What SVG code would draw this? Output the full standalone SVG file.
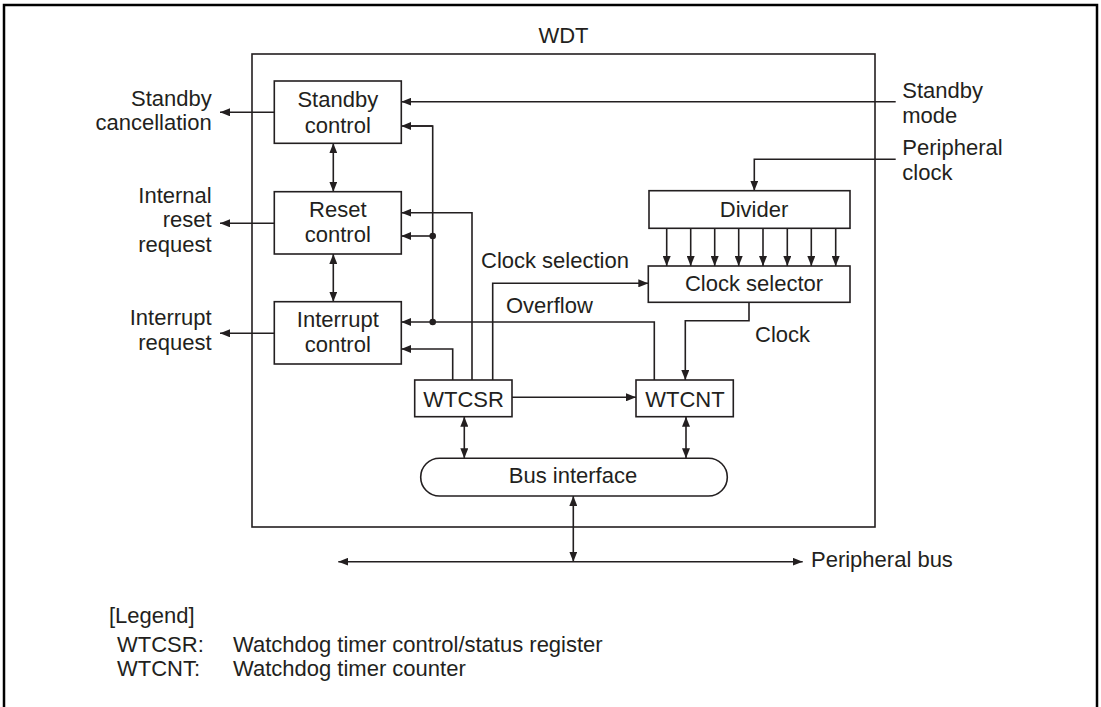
<svg xmlns="http://www.w3.org/2000/svg" width="1101" height="707" viewBox="0 0 1101 707">
<defs>
<style>
text{font-family:"Liberation Sans",Arial,Helvetica,sans-serif;font-size:22px;fill:#231f20}
.box{fill:#fff;stroke:#231f20;stroke-width:1.6}
.ln{fill:none;stroke:#231f20;stroke-width:1.6}
.ar{marker-end:url(#ah)}
.da{marker-start:url(#ah);marker-end:url(#ah)}
.m{text-anchor:middle}
.e{text-anchor:end}
</style>
<marker id="ah" viewBox="0 0 10 8" refX="10" refY="4" markerWidth="10" markerHeight="8" markerUnits="userSpaceOnUse" orient="auto-start-reverse">
<path d="M0,0 L10,4 L0,8 z" fill="#231f20"/>
</marker>
</defs>
<rect x="0" y="0" width="1101" height="707" fill="#fff"/>
<rect x="4" y="5" width="1093" height="710" fill="none" stroke="#000" stroke-width="2.5"/>

<g id="wdt">
<rect class="box" x="252" y="54" width="623" height="473"/>
<text class="m" x="563.5" y="43">WDT</text>
</g>

<g id="connectors">
<!-- outputs -->
<path class="ln ar" d="M274,112.3 H220"/>
<path class="ln ar" d="M274,223.3 H220"/>
<path class="ln ar" d="M274,333.3 H220"/>
<!-- standby mode -->
<path class="ln ar" d="M895.7,101.7 H401.3"/>
<!-- peripheral clock -->
<path class="ln ar" d="M895.7,159.3 H754.3 V190.7"/>
<!-- inter-block double arrows -->
<path class="ln da" d="M333.3,143.3 V191.7"/>
<path class="ln da" d="M333.3,254 V301.7"/>
<!-- overflow bus with vertical at 433 -->
<path class="ln ar" d="M654.3,380 V322 H401.3"/>
<path class="ln" d="M432.7,322 V126 H410"/>
<path class="ln ar" d="M432.7,126 H401.3"/>
<path class="ln ar" d="M432.7,236 H401.3"/>
<circle cx="432.7" cy="236" r="3.3" fill="#231f20"/>
<circle cx="432.7" cy="322" r="3.3" fill="#231f20"/>
<!-- WTCSR to reset -->
<path class="ln ar" d="M472,380 V212.7 H401.3"/>
<!-- WTCSR to interrupt -->
<path class="ln ar" d="M452.7,380 V349 H401.3"/>
<!-- clock selection -->
<path class="ln ar" d="M492.7,380 V283.3 H648.3"/>
<!-- divider outputs -->
<path class="ln ar" d="M666.7,228.3 V266"/>
<path class="ln ar" d="M690.7,228.3 V266"/>
<path class="ln ar" d="M714.7,228.3 V266"/>
<path class="ln ar" d="M738.7,228.3 V266"/>
<path class="ln ar" d="M763,228.3 V266"/>
<path class="ln ar" d="M787.3,228.3 V266"/>
<path class="ln ar" d="M811.3,228.3 V266"/>
<path class="ln ar" d="M835.7,228.3 V266"/>
<!-- clock -->
<path class="ln ar" d="M749,302.3 V320.7 H685.3 V380"/>
<!-- WTCSR to WTCNT -->
<path class="ln ar" d="M512,397.3 H636"/>
<!-- to bus interface -->
<path class="ln da" d="M464.3,416.7 V458.3"/>
<path class="ln da" d="M686,416.7 V458.3"/>
<path class="ln da" d="M573.3,496 V561.7"/>
<!-- peripheral bus -->
<path class="ln da" d="M338.3,561.7 H802.7"/>
</g>

<g id="standby-control">
<rect class="box" x="274.3" y="81" width="127" height="62.3"/>
<text class="m" x="337.8" y="107.3">Standby</text>
<text class="m" x="337.8" y="132.7">control</text>
</g>
<g id="reset-control">
<rect class="box" x="274.3" y="191.7" width="127" height="62.3"/>
<text class="m" x="337.8" y="217.3">Reset</text>
<text class="m" x="337.8" y="241.7">control</text>
</g>
<g id="interrupt-control">
<rect class="box" x="274.3" y="301.7" width="127" height="62.3"/>
<text class="m" x="337.8" y="326.7">Interrupt</text>
<text class="m" x="337.8" y="352">control</text>
</g>
<g id="divider">
<rect class="box" x="649" y="190.7" width="201" height="37.6"/>
<text class="m" x="754" y="217">Divider</text>
</g>
<g id="clock-selector">
<rect class="box" x="648.3" y="266" width="201.7" height="36.3"/>
<text class="m" x="754" y="290.7">Clock selector</text>
</g>
<g id="wtcsr">
<rect class="box" x="414.7" y="380" width="97.3" height="36.7"/>
<text class="m" x="463.5" y="406.7">WTCSR</text>
</g>
<g id="wtcnt">
<rect class="box" x="636" y="380" width="97.3" height="36.7"/>
<text class="m" x="685" y="406.7">WTCNT</text>
</g>
<g id="bus-interface">
<rect class="box" x="420.7" y="458.3" width="306.6" height="37.7" rx="18.8" ry="18.8"/>
<text class="m" x="573" y="482.7">Bus interface</text>
</g>

<g id="labels">
<text class="e" x="211.7" y="106">Standby</text>
<text class="e" x="211.7" y="130">cancellation</text>
<text class="e" x="211.7" y="203">Internal</text>
<text class="e" x="211.7" y="227">reset</text>
<text class="e" x="211.7" y="251.7">request</text>
<text class="e" x="211.7" y="325">Interrupt</text>
<text class="e" x="211.7" y="350">request</text>
<text x="902.3" y="98.3">Standby</text>
<text x="902.3" y="123.3">mode</text>
<text x="902.3" y="155">Peripheral</text>
<text x="902.3" y="180">clock</text>
<text x="481" y="268">Clock selection</text>
<text x="506" y="312.7">Overflow</text>
<text x="755" y="341.7">Clock</text>
<text x="811" y="566.7">Peripheral bus</text>
</g>

<g id="legend">
<text x="109" y="623">[Legend]</text>
<text x="117" y="651.7">WTCSR:</text>
<text x="233" y="651.7">Watchdog timer control/status register</text>
<text x="117" y="676">WTCNT:</text>
<text x="233" y="676">Watchdog timer counter</text>
</g>
</svg>
